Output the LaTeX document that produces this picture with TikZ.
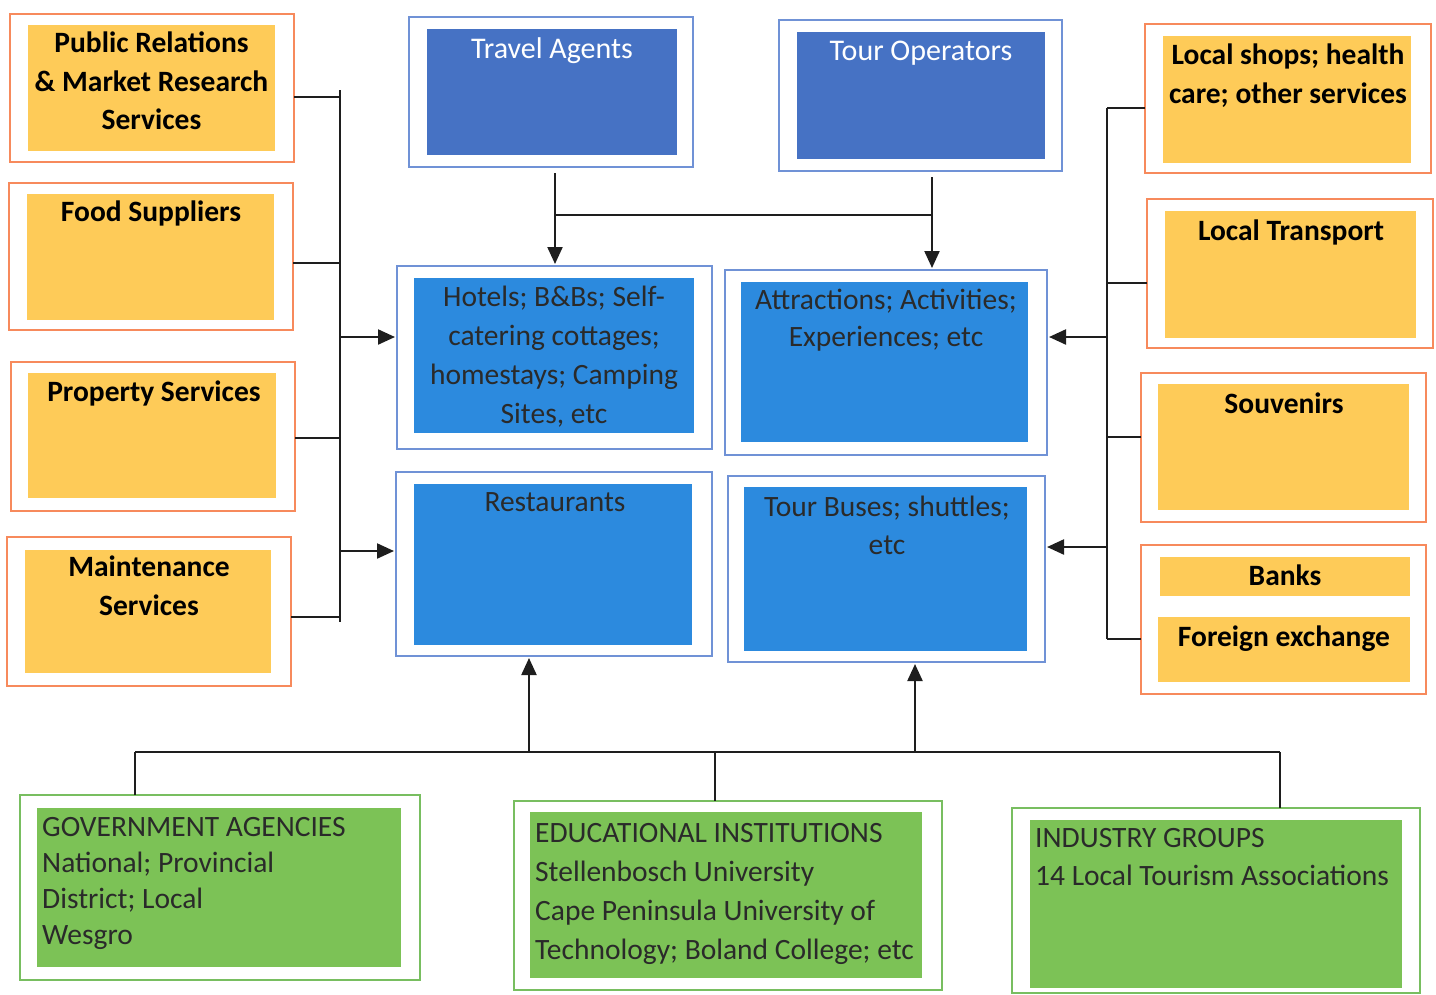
\documentclass[tikz,border=0pt]{standalone}
\usepackage{fontspec}
\setmainfont{Carlito}
\usetikzlibrary{arrows.meta}

\definecolor{supEdge}{RGB}{247,138,92}
\definecolor{supFill}{RGB}{254,203,88}
\definecolor{topFill}{RGB}{70,114,196}
\definecolor{midFill}{RGB}{44,138,222}
\definecolor{blueEdge}{RGB}{112,146,214}
\definecolor{grnFill}{RGB}{124,194,86}
\definecolor{grnEdge}{RGB}{120,190,96}
\definecolor{ink}{RGB}{42,42,42}
\definecolor{wire}{RGB}{30,30,30}

% \mkpanel{name}{x1}{y1}{x2}{y2}{style}: a rectangle between two corners
\newcommand\mkpanel[6]{\node[#6, minimum width=#4-#2, minimum height=#5-#3] (#1) at (#2,#3) {};}

\begin{document}
\begin{tikzpicture}[x=1pt,y=-1pt,
  box/.style={rectangle, anchor=north west, inner sep=0, outer sep=0},
  supOut/.style={box, draw=supEdge, line width=2.6pt, fill=white},
  supIn/.style={box, fill=supFill},
  blueOut/.style={box, draw=blueEdge, line width=2.6pt, fill=white},
  topIn/.style={box, fill=topFill},
  midIn/.style={box, fill=midFill},
  grnOut/.style={box, draw=grnEdge, line width=2.6pt, fill=white},
  grnIn/.style={box, fill=grnFill},
  txt/.style={font=\fontsize{29.5}{38.5}\selectfont, align=center, anchor=north, inner sep=0},
  suptxt/.style={txt, font=\fontsize{29.5}{38.5}\selectfont\bfseries, text=black},
  toptxt/.style={txt, font=\fontsize{30}{38.5}\selectfont, text=white},
  midtxt/.style={txt, text=ink},
  grntxt/.style={txt, align=left, anchor=north west, text=ink},
  line/.style={draw=wire, line width=2.2pt},
  arr/.style={line, -{Triangle[length=17pt,width=15pt]}, shorten >=2pt},
]
\useasboundingbox (0,0) rectangle (1436,994);

% ---------- suppliers on the left ----------
\mkpanel{pr}{10}{14}{294}{162}{supOut}
\mkpanel{pr-in}{28}{25}{275}{151}{supIn}
\node[suptxt] (pr-t) at (151.5,32) {Public Relations\\\& Market Research\\Services};

\mkpanel{food}{9}{183}{293}{330}{supOut}
\mkpanel{food-in}{27}{194}{274}{320}{supIn}
\node[suptxt] (food-t) at (151,201) {Food Suppliers};

\mkpanel{prop}{11}{362}{295}{511}{supOut}
\mkpanel{prop-in}{28}{373}{276}{498}{supIn}
\node[suptxt] (prop-t) at (154,381) {Property Services};

\mkpanel{maint}{7}{537}{291}{686}{supOut}
\mkpanel{maint-in}{25}{550}{271}{673}{supIn}
\node[suptxt] (maint-t) at (149,556) {Maintenance\\Services};

% ---------- intermediaries on top ----------
\mkpanel{ta}{409}{17}{693}{167}{blueOut}
\mkpanel{ta-in}{427}{29}{677}{155}{topIn}
\node[toptxt] (ta-t) at (552,37) {Travel Agents};

\mkpanel{to}{779}{20}{1062}{171}{blueOut}
\mkpanel{to-in}{797}{32}{1045}{159}{topIn}
\node[toptxt] (to-t) at (921,41) {Tour Operators};

% ---------- core tourism products ----------
\mkpanel{hot}{397}{266}{712}{449}{blueOut}
\mkpanel{hot-in}{414}{278}{694}{433}{midIn}
\node[midtxt, font=\fontsize{29.5}{39}\selectfont] (hot-t) at (554,286)
  {Hotels; B\&Bs; Self-\\catering cottages;\\homestays; Camping\\Sites, etc};

\mkpanel{attr}{725}{270}{1047}{455}{blueOut}
\mkpanel{attr-in}{741}{282}{1028}{442}{midIn}
\node[midtxt, font=\fontsize{29.5}{37}\selectfont] (attr-t) at (886,289)
  {Attractions; Activities;\\Experiences; etc};

\mkpanel{rest}{396}{472}{712}{656}{blueOut}
\mkpanel{rest-in}{414}{484}{692}{645}{midIn}
\node[midtxt] (rest-t) at (555,492) {Restaurants};

\mkpanel{tbus}{728}{476}{1045}{662}{blueOut}
\mkpanel{tbus-in}{744}{487}{1027}{651}{midIn}
\node[midtxt, font=\fontsize{29.5}{38}\selectfont] (tbus-t) at (887,496) {Tour Buses; shuttles;\\etc};

% ---------- suppliers on the right ----------
\mkpanel{shop}{1145}{24}{1431}{173}{supOut}
\mkpanel{shop-in}{1163}{36}{1411}{163}{supIn}
\node[suptxt, font=\fontsize{29.5}{39}\selectfont\bfseries] (shop-t) at (1288,44) {Local shops; health\\care; other services};

\mkpanel{trans}{1147}{199}{1433}{348}{supOut}
\mkpanel{trans-in}{1165}{211}{1416}{338}{supIn}
\node[suptxt] (trans-t) at (1291,220) {Local Transport};

\mkpanel{souv}{1141}{373}{1426}{522}{supOut}
\mkpanel{souv-in}{1158}{384}{1409}{510}{supIn}
\node[suptxt] (souv-t) at (1284,393) {Souvenirs};

\mkpanel{bank}{1141}{545}{1426}{694}{supOut}
\mkpanel{bank-in}{1160}{557}{1410}{596}{supIn}
\mkpanel{fx-in}{1158}{617}{1410}{682}{supIn}
\node[suptxt] (bank-t) at (1285,565) {Banks};
\node[suptxt] (fx-t) at (1284,626) {Foreign exchange};

% ---------- support organisations ----------
\mkpanel{gov}{20}{795}{420}{980}{grnOut}
\mkpanel{gov-in}{37}{808}{401}{967}{grnIn}
\node[grntxt, font=\fontsize{29.5}{36}\selectfont] (gov-t) at (42,817)
  {GOVERNMENT AGENCIES\\National; Provincial\\District; Local\\Wesgro};

\mkpanel{edu}{514}{801}{942}{990}{grnOut}
\mkpanel{edu-in}{530}{812}{922}{978}{grnIn}
\node[grntxt, font=\fontsize{29.5}{39}\selectfont] (edu-t) at (535,823)
  {EDUCATIONAL INSTITUTIONS\\Stellenbosch University\\Cape Peninsula University of\\Technology; Boland College; etc};

\mkpanel{ind}{1012}{808}{1420}{993}{grnOut}
\mkpanel{ind-in}{1030}{820}{1402}{988}{grnIn}
\node[grntxt, font=\fontsize{29.5}{38}\selectfont] (ind-t) at (1035,828)
  {INDUSTRY GROUPS\\14 Local Tourism Associations};

% ---------- left bus ----------
\coordinate (lbT) at (340,90);
\coordinate (lbB) at (340,622);
\draw[line] (lbT) -- (lbB);
\draw[line] ([yshift=-9pt]pr.east) -- ([yshift=-9pt]pr.east -| lbT);
\draw[line] ([yshift=-6.5pt]food.east) -- ([yshift=-6.5pt]food.east -| lbT);
\draw[line] ([yshift=-1.5pt]prop.east) -- ([yshift=-1.5pt]prop.east -| lbT);
\draw[line] ([yshift=-5.5pt]maint.east) -- ([yshift=-5.5pt]maint.east -| lbT);
\coordinate (la1) at (340,337);
\coordinate (la2) at (340,551);
\draw[arr] (la1) -- (la1 -| hot.west);
\draw[arr] (la2) -- (la2 -| rest.west);

% ---------- right bus ----------
\coordinate (rbT) at (1107,108);
\coordinate (rbB) at (1107,639);
\draw[line] (rbT) -- (rbB);
\draw[line] ([yshift=-9.5pt]shop.west) -- ([yshift=-9.5pt]shop.west -| rbT);
\draw[line] ([yshift=-9.5pt]trans.west) -- ([yshift=-9.5pt]trans.west -| rbT);
\draw[line] ([yshift=10.5pt]souv.west) -- ([yshift=10.5pt]souv.west -| rbT);
\draw[line] ([yshift=-19.5pt]bank.west) -- ([yshift=-19.5pt]bank.west -| rbT);
\coordinate (ra1) at (1107,337);
\coordinate (ra2) at (1107,547);
\draw[arr] (ra1) -- (ra1 -| attr.east);
\draw[arr] (ra2) -- (ra2 -| tbus.east);

% ---------- intermediaries to products ----------
\coordinate (tj1) at (555,215);
\coordinate (tj2) at (932,215);
\draw[arr] ([yshift=-6pt]ta.south -| tj1) -- (tj1 |- hot.north);
\draw[arr] ([yshift=-6pt]to.south -| tj2) -- (tj2 |- attr.north);
\draw[line] (tj1) -- (tj2);

% ---------- support organisations to products ----------
\coordinate (bb1) at (135,752);
\coordinate (bb2) at (1280,752);
\coordinate (bm) at (715,752);
\draw[line] (bb1) -- (bb2);
\draw[line] (bb1) -- (bb1 |- gov.north);
\draw[line] (bm) -- (bm |- edu.north);
\draw[line] (bb2) -- (bb2 |- ind.north);
\coordinate (bu1) at (529,752);
\coordinate (bu2) at (915,752);
\draw[arr] (bu1) -- (bu1 |- rest.south);
\draw[arr] (bu2) -- (bu2 |- tbus.south);
\end{tikzpicture}
\end{document}
